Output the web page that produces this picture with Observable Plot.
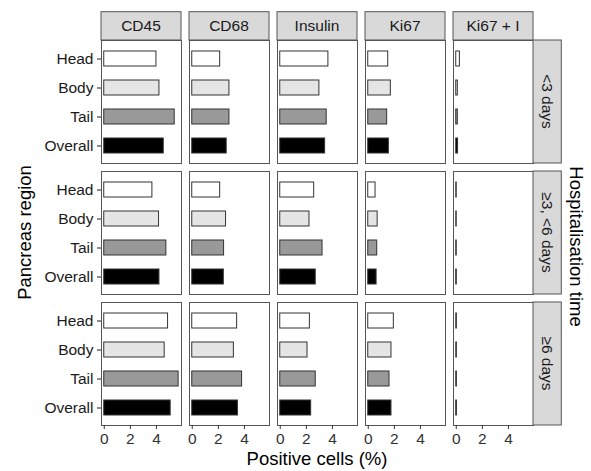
<!DOCTYPE html>
<html>
<head>
<meta charset="utf-8">
<script src="https://cdn.jsdelivr.net/npm/d3@7"></script>
<script src="https://cdn.jsdelivr.net/npm/@observablehq/plot@0.6"></script>
<style>
  html, body { margin: 0; padding: 0; background: #ffffff; }
  #chart svg { display: block; }
</style>
</head>
<body>
<div id="chart"></div>
<script>
// ---- data ----
const markers = ["CD45", "CD68", "Insulin", "Ki67", "Ki67 + I"];
const times = ["<3 days", "\u22653, <6 days", "\u22656 days"];
const regions = ["Head", "Body", "Tail", "Overall"];
const regionFills = ["#FFFFFF", "#E5E5E5", "#999999", "#000000"];
const xTicks = [0, 2, 4];
// each marker: one row per hospitalisation time, values in region order (Head, Body, Tail, Overall)
const CD45    = [[4.00, 4.23, 5.40, 4.56], [3.69, 4.20, 4.76, 4.23], [4.89, 4.63, 5.70, 5.09]];
const CD68    = [[2.14, 2.85, 2.85, 2.64], [2.14, 2.59, 2.44, 2.42], [3.44, 3.19, 3.82, 3.50]];
const Insulin = [[3.69, 3.00, 3.56, 3.44], [2.60, 2.24, 3.24, 2.72], [2.27, 2.09, 2.72, 2.37]];
const Ki67    = [[1.53, 1.73, 1.45, 1.58], [0.56, 0.72, 0.69, 0.64], [1.96, 1.78, 1.63, 1.78]];
const Ki67I   = [[0.28, 0.12, 0.12, 0.14], [0.04, 0.04, 0.04, 0.04], [0.05, 0.05, 0.05, 0.05]];

const seriesByMarker = [CD45, CD68, Insulin, Ki67, Ki67I];
const table = [];
markers.forEach((m, mi) => times.forEach((t, ti) => regions.forEach((r, ri) => {
  table.push({marker: m, time: t, region: r, value: seriesByMarker[mi][ti][ri]});
})));

// ---- style ----
const FONT = "Liberation Sans, Arial, Helvetica, sans-serif";
const STRIP = 28.3;
const W = 591, H = 471;

const chart = Plot.plot({
  width: W,
  height: H,
  marginLeft: 101,
  marginRight: 57,
  marginTop: 40,
  marginBottom: 45,
  style: {fontFamily: FONT, fontSize: "15.5px", background: "#ffffff", color: "#1a1a1a", overflow: "visible"},
  fx: {domain: markers, paddingInner: 0.09, paddingOuter: 0, axis: null},
  fy: {domain: times, paddingInner: 0.061, paddingOuter: 0, axis: null},
  x: {domain: [-0.21, 5.92]},
  y: {domain: regions, paddingInner: 0.5, paddingOuter: 0.35},
  color: {domain: regions, range: regionFills},
  marks: [
    Plot.frame({stroke: "#555555", strokeWidth: 1}),
    Plot.barX(table, {
      x1: 0, x2: "value", y: "region", fx: "marker", fy: "time",
      fill: "region", stroke: "#333333", strokeWidth: 1
    }),
    Plot.axisX({ticks: xTicks, tickFormat: (d) => String(d), tickSize: 4, tickPadding: 3, label: null, fontSize: 15.5, color: "#333333"}),
    Plot.axisY({tickSize: 4, tickPadding: 4, label: null, fontSize: 15.5, color: "#1a1a1a"})
  ]
});

document.getElementById("chart").appendChild(chart);

// ---- facet strips and titles, positioned from Plot's own facet scales ----
const svgNode = chart.tagName.toLowerCase() === "svg" ? chart : chart.querySelector("svg");
const svg = d3.select(svgNode);
const band = (d) => d3.scaleBand()
  .domain(d.domain).range(d.range)
  .paddingInner(d.paddingInner ?? 0).paddingOuter(d.paddingOuter ?? 0)
  .align(d.align ?? 0.5).round(!!d.round);
const fxD = chart.scale("fx"), fyD = chart.scale("fy");
const fx = band(fxD), fy = band(fyD);

const strips = svg.append("g").attr("font-family", FONT).attr("font-size", 15.5).attr("fill", "#1a1a1a");
const topY = fy(times[0]);
for (const m of markers) {
  const x0 = fx(m), w = fx.bandwidth();
  strips.append("rect").attr("x", x0).attr("y", topY - STRIP).attr("width", w).attr("height", STRIP)
    .attr("fill", "#D9D9D9").attr("stroke", "#555555").attr("stroke-width", 1);
  strips.append("text").attr("x", x0 + w / 2).attr("y", topY - STRIP / 2).attr("dy", "0.35em")
    .attr("text-anchor", "middle").attr("fill", "#1a1a1a").text(m);
}
const rightX = fx(markers[markers.length - 1]) + fx.bandwidth();
for (const t of times) {
  const y0 = fy(t), h = fy.bandwidth();
  strips.append("rect").attr("x", rightX).attr("y", y0).attr("width", STRIP).attr("height", h)
    .attr("fill", "#D9D9D9").attr("stroke", "#555555").attr("stroke-width", 1);
  strips.append("text").attr("transform", `translate(${rightX + STRIP / 2},${y0 + h / 2}) rotate(90)`)
    .attr("dy", "0.35em").attr("text-anchor", "middle").attr("fill", "#1a1a1a").text(t);
}

const titles = svg.append("g").attr("font-family", FONT).attr("font-size", 18.5).attr("fill", "#000000");
const midX = (fx(markers[0]) + rightX) / 2;
const bottomY = fy(times[times.length - 1]) + fy.bandwidth();
const midY = (topY + bottomY) / 2;
titles.append("text").attr("x", midX).attr("y", H - 6).attr("text-anchor", "middle").text("Positive cells (%)");
titles.append("text").attr("transform", `translate(31,${midY}) rotate(-90)`).attr("text-anchor", "middle").text("Pancreas region");
titles.append("text").attr("transform", `translate(${rightX + STRIP + 9},${midY + 14}) rotate(90)`).attr("text-anchor", "middle").text("Hospitalisation time");
</script>
</body>
</html>
